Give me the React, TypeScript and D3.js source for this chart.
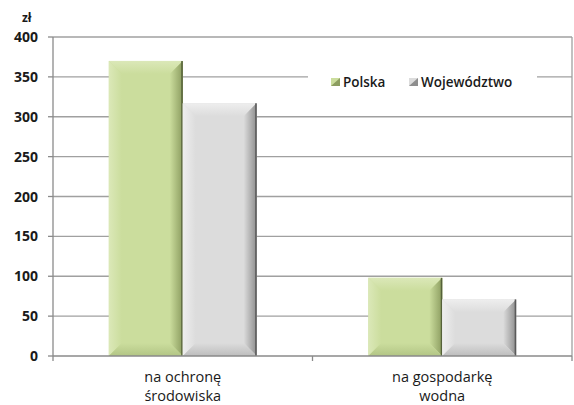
import { useMemo } from "react";
import * as d3 from "d3";

const categories = ["na ochronę\nśrodowiska", "na gospodarkę\nwodna"];
const seriesNames = ["Polska", "Województwo"];
const polska = [370, 98];
const wojewodztwo = [317, 71];
const yTicks = [0, 50, 100, 150, 200, 250, 300, 350, 400];

const palette = [
  { id: "g", main: "#cbdd9d", light: "#dbe8b8", dark: "#8c9d60", mid: "#b2c585", edge: "#55613a" },
  { id: "s", main: "#dcdcdc", light: "#eeeeee", dark: "#8e8e8e", mid: "#bdbdbd", edge: "#5a5a5a" },
];

function Grads() {
  return (
    <defs>
      {palette.map(c => (
        <g key={c.id}>
          <linearGradient id={`${c.id}-top`} x1="0" y1="0" x2="0" y2="1">
            <stop offset="0" stopColor={c.light} />
            <stop offset="1" stopColor={c.main} />
          </linearGradient>
          <linearGradient id={`${c.id}-left`} x1="0" y1="0" x2="1" y2="0">
            <stop offset="0" stopColor={c.light} />
            <stop offset="1" stopColor={c.main} />
          </linearGradient>
          <linearGradient id={`${c.id}-right`} x1="0" y1="0" x2="1" y2="0">
            <stop offset="0" stopColor={c.main} />
            <stop offset="1" stopColor={c.dark} />
          </linearGradient>
          <linearGradient id={`${c.id}-bottom`} x1="0" y1="0" x2="0" y2="1">
            <stop offset="0" stopColor={c.main} />
            <stop offset="1" stopColor={c.mid} />
          </linearGradient>
        </g>
      ))}
    </defs>
  );
}

function BevelBar({ x, y, w, h, c }: { x: number; y: number; w: number; h: number; c: typeof palette[0] }) {
  const b = Math.min(13, w / 2, h / 2);
  const x1 = x + w, y1 = y + h;
  const p = (pts: number[][]) => pts.map(q => q.join(",")).join(" ");
  return (
    <g>
      <rect x={x} y={y} width={w} height={h} fill={c.main} />
      <polygon points={p([[x, y], [x1, y], [x1 - b, y + b], [x + b, y + b]])} fill={`url(#${c.id}-top)`} />
      <polygon points={p([[x, y], [x + b, y + b], [x + b, y1 - b], [x, y1]])} fill={`url(#${c.id}-left)`} />
      <polygon points={p([[x1, y], [x1, y1], [x1 - b, y1 - b], [x1 - b, y + b]])} fill={`url(#${c.id}-right)`} />
      <polygon points={p([[x, y1], [x + b, y1 - b], [x1 - b, y1 - b], [x1, y1]])} fill={`url(#${c.id}-bottom)`} />
      <line x1={x1 - 0.75} x2={x1 - 0.75} y1={y} y2={y1} stroke={c.edge} strokeWidth={1.5} />
    </g>
  );
}

export default function App() {
  const width = 574, height = 405;
  const left = 53, right = 572, top = 37, bottom = 356;
  const y = useMemo(() => d3.scaleLinear().domain([0, 400]).range([bottom, top]), []);
  const x0 = useMemo(() => d3.scaleBand().domain(categories).range([left, right]).paddingInner(0).paddingOuter(0), []);
  const x1 = useMemo(() => d3.scaleBand().domain(seriesNames).range([0, x0.bandwidth()]).paddingInner(0).paddingOuter(0.755), [x0]);
  const series = [polska, wojewodztwo];
  const font = "'Open Sans', sans-serif";

  return (
    <svg width={width} height={height} style={{ position: "absolute", left: 0, top: 0, background: "#fff" }}>
      <Grads />
      {yTicks.map(t => (
        <g key={t}>
          {t > 0 && <line x1={left} x2={right} y1={y(t)} y2={y(t)} stroke="#a0a0a0" strokeWidth={1.3} />}
          <line x1={left - 5} x2={left} y1={y(t)} y2={y(t)} stroke="#8a8a8a" strokeWidth={1.3} />
          <text x={38} y={y(t)} dy="0.36em" textAnchor="end" fontFamily={font} fontWeight="bold" fontSize={14} fill="#1a1a1a">{t}</text>
        </g>
      ))}
      <line x1={right} x2={right} y1={top} y2={bottom} stroke="#a0a0a0" strokeWidth={1.3} />
      <text x={22} y={22} fontFamily={font} fontWeight="bold" fontSize={12} fill="#1a1a1a">zł</text>
      {categories.map((cat, i) => (
        <g key={cat}>
          {series.map((s, j) => {
            const bx = (x0(cat) ?? 0) + (x1(seriesNames[j]) ?? 0);
            return <BevelBar key={j} x={bx} y={y(s[i])} w={x1.bandwidth()} h={y(0) - y(s[i])} c={palette[j]} />;
          })}
          <text x={(x0(cat) ?? 0) + x0.bandwidth() / 2} y={bottom + 26} textAnchor="middle" fontFamily={font} fontSize={14.5} fill="#1a1a1a">
            {cat.split("\n").map((l, k) => (
              <tspan key={k} x={(x0(cat) ?? 0) + x0.bandwidth() / 2} dy={k === 0 ? 0 : 19}>{l}</tspan>
            ))}
          </text>
        </g>
      ))}
      <line x1={left} x2={left} y1={top} y2={bottom} stroke="#8a8a8a" strokeWidth={1.3} />
      <line x1={left} x2={right} y1={bottom} y2={bottom} stroke="#8a8a8a" strokeWidth={1.3} />
      {[left, left + x0.bandwidth(), right].map((tx, k) => (
        <line key={k} x1={tx} x2={tx} y1={bottom} y2={bottom + 5} stroke="#8a8a8a" strokeWidth={1.3} />
      ))}
      <g>
        <rect x={308} y={68} width={229} height={28} fill="#fff" />
        {seriesNames.map((n, j) => {
          const lx = j === 0 ? 331 : 409;
          return (
            <g key={n}>
              <rect x={lx} y={78} width={9} height={8} fill={palette[j].main} />
              <polygon points={`${lx},${86} ${lx + 9},${78} ${lx + 9},${86}`} fill={palette[j].dark} />
              <text x={lx + 12} y={82} dy="0.36em" fontFamily={font} fontWeight={600} fontSize={13.5} fill="#1a1a1a">{n}</text>
            </g>
          );
        })}
      </g>
    </svg>
  );
}
